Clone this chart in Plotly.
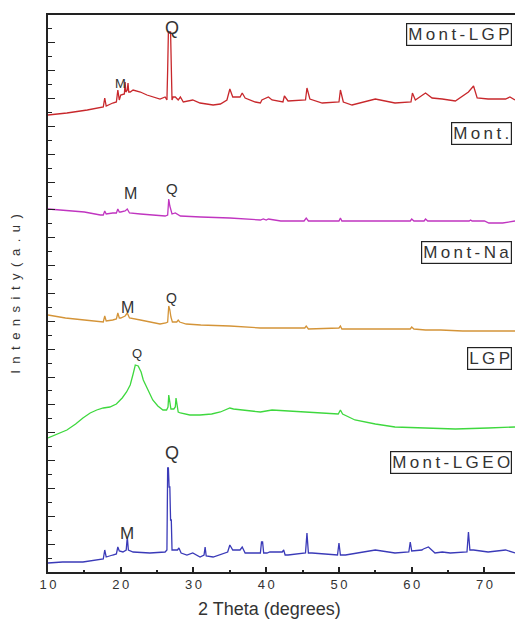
import plotly.graph_objects as go

# 2-theta (degrees) and intensity (a.u., stacked with offsets)
red_x = [10.0, 12.6, 15.4, 17.2, 17.6, 17.8, 18.0, 18.9, 19.4, 19.6, 19.8, 20.0, 20.5, 20.6, 20.7, 20.9, 21.0, 21.1, 21.3, 21.7,
         22.7, 23.6, 24.4, 25.4, 26.1, 26.35, 26.45, 26.55, 26.85, 26.95, 27.05, 27.2, 27.5, 27.9, 28.2, 28.6, 29.9, 30.9, 32.7, 33.7,
         34.6, 35.0, 35.4, 36.4, 36.7, 37.1, 38.5, 39.2, 39.4, 40.3, 40.8, 42.3, 42.5, 43.0, 45.4, 45.6, 46.0, 47.7, 50.0, 50.2,
         50.6, 51.8, 55.0, 57.7, 59.9, 60.1, 60.5, 61.9, 62.8, 64.2, 66.0, 67.8, 68.5, 69.0, 70.5, 72.9, 73.5, 74.2]
red_y = [457, 459, 462, 465, 465, 474, 466, 469, 470, 482, 472, 477, 478, 490, 480, 482, 489, 480, 480, 482,
         480, 477, 475, 473, 475, 472, 502, 540, 540, 502, 472, 475, 475, 472, 475, 470, 472, 469, 467, 468,
         472, 483, 475, 475, 479, 474, 470, 469, 472, 475, 472, 470, 476, 471, 472, 484, 473, 469, 470, 482,
         470, 467, 473, 469, 470, 479, 472, 479, 474, 473, 471, 480, 486, 474, 473, 473, 475, 472]

mag_x = [10.0, 12.0, 15.0, 17.2, 17.6, 17.8, 18.0, 18.9, 19.4, 19.6, 19.8, 20.0, 20.6, 20.9, 21.2, 22.7, 24.5, 26.1, 26.45, 26.6,
         26.75, 26.9, 27.05, 27.5, 28.2, 31.0, 35.0, 39.2, 39.6, 40.0, 40.3, 42.0, 45.2, 45.5, 45.8, 48.0, 50.0, 50.2, 50.4, 55.0,
         59.8, 60.0, 60.3, 61.7, 61.9, 62.2, 66.0, 67.9, 68.1, 68.3, 70.0, 70.6, 71.5, 72.5, 74.2]
mag_y = [363, 362, 360, 357, 357, 361, 358, 359, 359, 363, 360, 360, 361, 363, 359, 358, 357, 356, 357, 373,
         366, 360, 358, 359, 356, 355, 354, 352, 353, 352, 353, 351, 351, 354, 351, 351, 351, 354, 351, 351,
         351, 353, 351, 351, 353, 351, 351, 351, 352, 351, 351, 349, 349, 349, 351]

org_x = [10.0, 12.4, 15.0, 17.2, 17.6, 17.8, 18.0, 18.9, 19.4, 19.6, 19.8, 20.0, 20.6, 20.9, 21.2, 22.7, 24.0, 25.4, 26.2, 26.45,
         26.6, 26.75, 26.9, 27.1, 27.7, 27.9, 28.1, 29.0, 31.0, 35.0, 39.2, 40.0, 42.0, 45.3, 45.5, 45.8, 50.0, 50.2, 50.4, 53.0,
         56.0, 59.8, 60.0, 60.3, 61.9, 64.0, 67.0, 70.0, 74.2]
org_y = [257, 254, 252, 250, 250, 256, 251, 252, 253, 259, 254, 254, 256, 259, 254, 252, 250, 248, 249, 250,
         266, 262, 255, 250, 250, 252, 250, 248, 247, 246, 244, 244, 244, 244, 246, 243, 244, 246, 243, 243,
         243, 243, 245, 243, 242, 242, 241, 241, 241]

grn_x = [10.0, 11.0, 12.6, 13.8, 14.8, 15.8, 16.7, 17.6, 18.5, 19.4, 20.2, 20.8, 21.3, 21.7, 22.0, 22.4, 22.8, 23.1, 23.7, 24.4,
         25.1, 25.8, 26.3, 26.5, 26.6, 26.75, 26.9, 27.3, 27.5, 27.6, 27.75, 27.9, 28.2, 29.5, 30.9, 32.5, 33.7, 35.0, 35.5, 37.0,
         39.2, 40.8, 43.0, 46.7, 49.9, 50.2, 50.5, 52.2, 55.0, 57.7, 61.4, 66.0, 70.5, 74.2]
grn_y = [134, 137, 142, 148, 154, 159, 162, 164, 165, 168, 174, 180, 187, 198, 207, 206, 200, 192, 182, 172,
         166, 162, 162, 165, 177, 168, 163, 163, 165, 174, 164, 160, 159, 157, 157, 158, 160, 164, 163, 162,
         160, 162, 161, 159, 158, 162, 158, 152, 148, 145, 144, 143, 144, 145]

blu_x = [10.0, 12.0, 14.8, 17.2, 17.6, 17.8, 18.0, 18.9, 19.4, 19.6, 19.8, 20.3, 20.75, 20.9, 21.05, 21.7, 24.0, 26.1, 26.35, 26.45,
         26.55, 26.65, 26.75, 26.85, 26.95, 27.05, 27.2, 27.8, 28.0, 28.3, 29.1, 29.9, 30.9, 31.45, 31.6, 31.75, 32.7, 34.7, 35.0, 35.4,
         36.4, 36.7, 37.1, 39.2, 39.35, 39.5, 39.65, 40.1, 40.5, 42.2, 42.4, 42.6, 43.0, 45.4, 45.6, 45.8, 46.3, 49.8, 50.0, 50.2,
         50.9, 55.0, 57.7, 59.6, 59.8, 60.0, 61.4, 61.6, 62.3, 63.2, 64.2, 65.3, 67.6, 67.8, 68.0, 68.5, 70.5, 72.9, 74.2]
blu_y = [9, 10, 10, 12, 13, 22, 15, 17, 18, 25, 21, 20, 22, 35, 22, 20, 19, 20, 22, 104,
         104, 85, 85, 52, 52, 22, 22, 22, 24, 19, 17, 19, 15, 17, 25, 16, 15, 20, 27, 22,
         22, 25, 19, 19, 30, 30, 19, 19, 20, 20, 22, 17, 17, 19, 39, 19, 19, 17, 29, 17,
         17, 22, 19, 20, 30, 21, 22, 23, 25, 19, 20, 19, 20, 40, 22, 22, 20, 22, 19]

series_names = ["Mont-LGP", "Mont.", "Mont-Na", "LGP", "Mont-LGEO"]
series_x = [red_x, mag_x, org_x, grn_x, blu_x]
series_y = [red_y, mag_y, org_y, grn_y, blu_y]
series_colors = ["#c8282c", "#c035c0", "#d49438", "#3ed83e", "#3a3ab8"]
label_y = [538, 439, 320, 214, 110]

# peak markers: (text, 2theta, intensity, font size)
peak_text = ["Q", "M", "M", "Q", "M", "Q", "Q", "Q", "M"]
peak_x = [27.0, 19.9, 21.3, 27.0, 20.9, 27.0, 22.2, 27.0, 20.9]
peak_y = [544, 489, 379, 384, 265, 274, 219, 119, 39]
peak_size = [18, 13, 16, 15, 16, 14, 13, 18, 17]

x_ticks = [10, 20, 30, 40, 50, 60, 70]

for xs, ys in zip(series_x, series_y):
    assert len(xs) == len(ys)

fig = go.Figure()
for name, xs, ys, c in zip(series_names, series_x, series_y, series_colors):
    fig.add_trace(go.Scatter(x=xs, y=ys, mode="lines", name=name,
                             line=dict(color=c, width=1.3), showlegend=False))

TXT = "#333333"
FONT = "Liberation Sans, Arial, sans-serif"
thin = "\u2009"
ann = []
for name, yy in zip(series_names, label_y):
    ann.append(dict(text=thin.join(name), x=0.994, xref="paper", xanchor="right", y=yy, yref="y",
                    yanchor="middle", showarrow=False, bordercolor="#222", borderwidth=1.2,
                    borderpad=1, bgcolor="white", font=dict(family=FONT, size=17, color=TXT)))
for t, px, py, s in zip(peak_text, peak_x, peak_y, peak_size):
    ann.append(dict(text=t, x=px, y=py, xref="x", yref="y", showarrow=False,
                    font=dict(family=FONT, size=s, color=TXT)))

sp = "\u2002"
ann.append(dict(text=sp.join("Intensity(a.u)"), x=-0.07, xref="paper", y=0.5, yref="paper",
                textangle=-90, showarrow=False, xanchor="center", yanchor="middle",
                font=dict(family=FONT, size=13, color=TXT)))
ann.append(dict(text="2 Theta (degrees)", x=0.475, xref="paper", y=-0.066, yref="paper",
                showarrow=False, xanchor="center", yanchor="middle",
                font=dict(family=FONT, size=18, color=TXT)))

fig.update_layout(
    width=515, height=620,
    margin=dict(l=48, r=0, t=15, b=48),
    paper_bgcolor="white", plot_bgcolor="white",
    annotations=ann,
    xaxis=dict(range=[10, 74.2], showgrid=False, zeroline=False, showline=True,
               linecolor="#222", linewidth=1.5, mirror=True,
               ticks="inside", ticklen=5, tickwidth=1.5, tickcolor="#222",
               tickvals=x_ticks, ticktext=[thin.join(str(v)) for v in x_ticks],
               tickfont=dict(family=FONT, size=13, color=TXT),
               minor=dict(ticks="inside", ticklen=2, tickwidth=1.5, tickcolor="#222", dtick=5, tick0=5, showgrid=False)),
    yaxis=dict(range=[0, 557], showgrid=False, zeroline=False, showline=True,
               linecolor="#222", linewidth=1.5, mirror=False,
               ticks="inside", ticklen=7, tickwidth=1.3, tickcolor="#222",
               tick0=0, dtick=27.85, showticklabels=False,
               minor=dict(ticks="inside", ticklen=4, tickwidth=1.2, tickcolor="#222", dtick=13.925, tick0=0, showgrid=False)),
)

fig.write_html("out.html", config={"displayModeBar": False},
               post_script="document.body.style.margin='0';document.body.style.padding='0';document.body.style.overflow='hidden';")
